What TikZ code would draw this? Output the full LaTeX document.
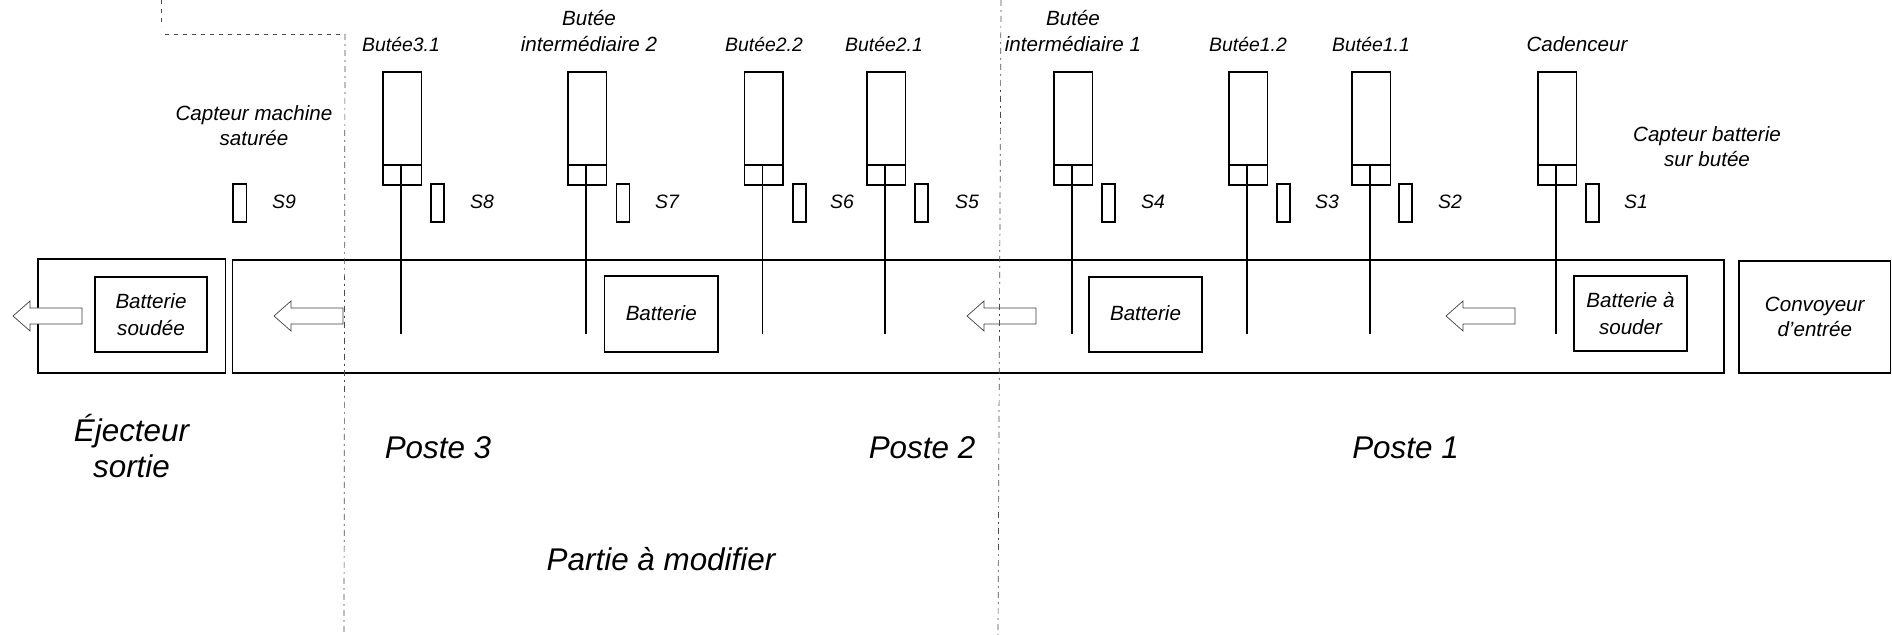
\documentclass[tikz,border=0pt]{standalone}
\usepackage{fontspec}
\setmainfont{Liberation Sans}
\newcommand{\pxbox}[6]{%
  \pgfmathsetmacro{\bw}{(#4-#2)*0.5}\pgfmathsetmacro{\bh}{(#5-#3)*0.5}%
  \node[boxnode,minimum width=\bw pt,minimum height=\bh pt] (#1) at ({(#2+#4)/2},{(#3+#5)/2}) {#6};}
\newcommand{\pxarrow}[2]{%
  \draw[flowarrow] (#1,#2) -- (#1+17,#2-15) -- (#1+17,#2-8) -- (#1+69,#2-8) -- (#1+69,#2+8) -- (#1+17,#2+8) -- (#1+17,#2+15) -- cycle;}
\tikzset{
  boxnode/.style={draw=black,fill=white,line width=0.9pt,inner sep=0pt,outer sep=0pt,align=center,font=\smalltext},
  flowarrow/.style={draw=black!75,fill=white,line width=0.35pt},
  rod/.style={draw=black,line width=0.9pt},
  limit/.style={draw=black!70,line width=0.35pt,dash pattern=on 3pt off 2pt on 1pt off 2pt},
  small/.style={font=\smalltext,align=center,inner sep=0pt},
  narrow/.style={font=\narrowtext,align=center,inner sep=0pt},
  large/.style={font=\largetext,align=center,inner sep=0pt},
}
\newcommand{\smalltext}{\fontsize{10.3}{12.6}\selectfont\itshape}
\newcommand{\narrowtext}{\fontsize{9.7}{12.6}\selectfont\itshape}
\newcommand{\largetext}{\fontsize{15.7}{18}\selectfont\itshape}
\begin{document}
\begin{tikzpicture}[x=0.5pt,y=-0.5pt]
\useasboundingbox (0,0) rectangle (1892,635);
% conveyors
\pxbox{ejbox}{38}{259}{225.5}{373}{}
\pxbox{mainbox}{232.5}{260}{1724}{373}{}
\pxbox{inbox}{1739}{261}{1890.5}{373}{Convoyeur\\d'entrée}
% batteries
\pxbox{batD}{95}{277}{207}{352}{\raisebox{0.8pt}{Batterie}\\soudée}
\pxbox{batC}{604.5}{276}{718}{352}{\raisebox{1.2pt}{Batterie}}
\pxbox{batB}{1089}{277}{1202}{352}{\raisebox{1.2pt}{Batterie}}
\pxbox{batA}{1574}{276}{1687}{351}{\raisebox{0.8pt}{Batterie à}\\souder}
% cylinders, sensors
\foreach \nm/\xa/\sx/\lx/\sn in {c31/383/431/482/S8,ci2/568/616.5/667/S7,c22/744.5/793/842/S6,c21/867/915/967/S5,ci1/1054/1102/1153/S4,c12/1229/1277/1327/S3,c11/1352/1399/1450/S2,cad/1538/1586/1636/S1}{
  \pgfmathsetmacro{\xb}{\xa+38.5}
  \pxbox{\nm body}{\xa}{72}{\xb}{165}{}
  \pxbox{\nm cap}{\xa}{165}{\xb}{185}{}
  \coordinate (\nm end) at ({\xa+18},334);
  \coordinate (\nm top) at ({\xa+18},165);
  \draw[rod] (\nm top) -- (\nm end);
  \pgfmathsetmacro{\xc}{\sx+13}
  \pxbox{\nm sens}{\sx}{184}{\xc}{222}{}
  \node[narrow] (\nm slab) at (\lx,202) {\sn};
}
\pxbox{s9sens}{233}{184}{246.5}{222}{}
\node[narrow] (s9lab) at (284,202) {S9};
% flow arrows
\pxarrow{13}{316}
\pxarrow{274}{316}
\pxarrow{967}{316}
\pxarrow{1446}{316}
% limits of the part to modify
\coordinate (l0) at (161,0);
\coordinate (l1) at (161,27);
\coordinate (l2) at (165,34);
\coordinate (l3) at (345,34);
\coordinate (l4) at (344,635);
\coordinate (r0) at (1001,0);
\coordinate (r1) at (998,635);
\draw[limit,dash pattern=on 2pt off 2.5pt] (l0) -- (l1);
\draw[limit,dash pattern=on 2pt off 2.5pt] (l2) -- (l3);
\draw[limit] (l3) -- (l4);
\draw[limit] (r0) -- (r1);
% labels
\node[narrow] (t31) at (401,44) {Butée3.1};
\node[small] (ti2) at (589,31) {Butée\\intermédiaire 2};
\node[narrow] (t22) at (764,44) {Butée2.2};
\node[narrow] (t21) at (884,44) {Butée2.1};
\node[small] (ti1) at (1073,31) {Butée\\intermédiaire 1};
\node[narrow] (t12) at (1248,44) {Butée1.2};
\node[narrow] (t11) at (1371,44) {Butée1.1};
\node[small] (tcad) at (1577,44) {Cadenceur};
\node[small] (tsat) at (254,125.5) {Capteur machine\\saturée};
\node[small] (tbat) at (1707,147) {Capteur batterie\\sur butée};
\node[large] (tej) at (131.5,446) {Éjecteur\\sortie};
\node[large] (tp3) at (438,448) {Poste 3};
\node[large] (tp2) at (922,448) {Poste 2};
\node[large] (tp1) at (1405.5,448) {Poste 1};
\node[large] (tpm) at (661,559) {Partie à modifier};
\end{tikzpicture}
\end{document}
